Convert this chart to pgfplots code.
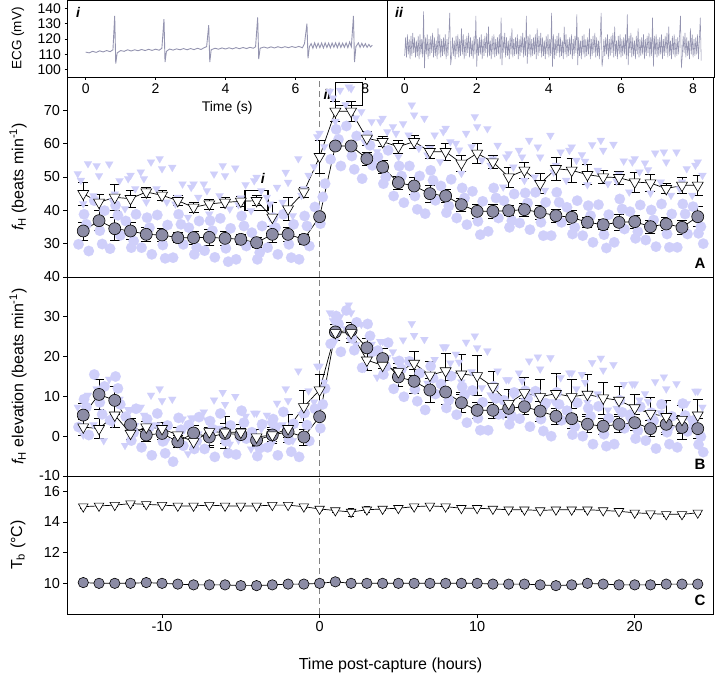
\documentclass[border=0pt]{standalone}
\usepackage{pgfplots}
\pgfplotsset{compat=1.18}
\usepackage{pgfplotstable}
\usepackage{fontspec}
\setmainfont{Liberation Sans}
\definecolor{meanfill}{RGB}{140,140,165}
\definecolor{scat}{RGB}{207,207,250}
\definecolor{ecg}{RGB}{148,148,176}
\definecolor{zeroline}{RGB}{130,130,130}

\pgfplotstableread{
h c ec t et
-15 33.8 2.7 45.0 3.5
-14 36.9 3.0 42.4 2.5
-13 34.5 3.5 43.9 4.0
-12 33.8 2.5 43.5 2.5
-11 32.8 2.0 45.5 1.5
-10 32.6 2.0 44.5 1.5
-9 31.8 1.5 42.9 1.5
-8 31.8 2.0 40.9 1.5
-7 31.9 2.5 41.9 1.5
-6 31.6 2.0 42.4 1.5
-5 31.3 1.5 42.7 1.5
-4 30.3 1.5 42.9 1.5
-3 32.8 2.5 37.9 4.5
-2 32.8 2.0 40.4 3.5
-1 31.3 1.5 45.5 1.5
0 38.1 1.0 56.1 5.0
1 59.3 1.0 69.7 3.0
2 59.3 1.0 69.7 3.0
3 55.5 2.0 61.6 2.0
4 53.0 2.0 60.6 1.5
5 48.3 2.0 59.1 2.0
6 47.3 2.5 60.6 2.0
7 45.0 2.5 57.6 2.0
8 44.3 2.0 57.6 2.5
9 41.7 2.0 54.1 2.5
10 39.7 2.0 57.1 3.0
11 39.7 2.0 54.5 2.0
12 39.9 1.5 50.0 3.0
13 40.2 2.0 52.0 2.5
14 39.4 2.0 48.0 3.0
15 38.4 2.0 52.5 3.5
16 37.9 2.0 52.0 3.5
17 36.4 1.5 50.7 3.0
18 35.7 1.5 50.0 2.0
19 36.4 2.5 49.8 2.0
20 36.6 2.0 48.5 3.0
21 35.1 2.0 48.2 2.5
22 35.9 2.0 46.5 1.5
23 34.9 2.0 47.5 2.5
24 38.1 3.0 47.5 3.0
}\tabA

\pgfplotstableread{
h c ec t et
-15 5.3 3.0 2.3 2.0
-14 10.5 3.8 1.9 2.5
-13 9.0 3.5 5.3 3.0
-12 2.9 1.5 0.7 1.5
-11 0.3 1.5 2.3 1.5
-10 0.7 1.5 1.9 1.5
-9 -1.4 1.5 0.3 2.0
-8 0.8 2.0 -1.4 2.0
-7 -0.2 2.5 1.1 3.5
-6 0.7 2.5 1.0 4.0
-5 0.4 1.5 1.0 2.0
-4 -1.0 1.5 -0.2 2.0
-3 0.3 1.5 0.3 2.0
-2 1.1 1.5 1.9 3.5
-1 -0.2 2.0 7.4 4.0
0 4.9 0.5 11.6 4.0
1 26.2 2.0 26.0 2.0
2 26.6 2.0 26.0 2.5
3 22.2 2.5 19.1 2.5
4 19.5 2.5 17.8 2.5
5 14.9 2.5 16.2 2.0
6 13.8 3.0 18.3 3.0
7 11.6 3.0 15.3 3.5
8 11.1 3.0 16.4 4.5
9 8.4 2.5 15.6 5.0
10 6.5 2.0 15.2 5.0
11 6.5 2.0 12.4 4.0
12 7.0 2.0 8.2 3.5
13 7.4 2.0 10.9 4.0
14 6.3 2.5 9.9 4.5
15 5.0 2.0 10.7 5.0
16 4.4 2.5 9.9 4.5
17 3.0 2.0 10.5 5.0
18 2.5 2.0 9.6 4.0
19 3.0 2.0 9.0 3.5
20 3.4 2.0 7.1 3.5
21 1.9 2.0 5.7 4.0
22 3.0 2.5 4.9 4.0
23 2.2 3.0 4.2 3.5
24 1.9 2.5 5.3 4.0
}\tabB

\pgfplotstableread{
h c t et
-15 10.05 15.0 0.08
-14 10.0 15.05 0.08
-13 10.0 15.1 0.08
-12 10.0 15.2 0.1
-11 10.05 15.15 0.1
-10 10.0 15.1 0.08
-9 9.95 15.05 0.08
-8 9.9 15.05 0.08
-7 9.9 15.1 0.08
-6 9.9 15.05 0.08
-5 9.85 15.05 0.08
-4 9.85 15.05 0.08
-3 9.9 15.1 0.08
-2 9.95 15.1 0.08
-1 9.95 15.0 0.08
0 10.0 14.85 0.1
1 10.1 14.75 0.1
2 10.0 14.65 0.25
3 10.0 14.8 0.2
4 10.0 14.85 0.08
5 10.0 14.9 0.08
6 10.0 15.0 0.08
7 10.0 15.05 0.08
8 10.0 15.0 0.08
9 10.0 14.9 0.08
10 10.0 14.9 0.08
11 9.95 14.85 0.08
12 9.95 14.8 0.08
13 9.95 14.8 0.08
14 9.9 14.75 0.08
15 9.85 14.8 0.08
16 9.9 14.8 0.08
17 10.0 14.8 0.08
18 9.95 14.75 0.08
19 9.9 14.7 0.08
20 9.9 14.6 0.1
21 9.9 14.55 0.08
22 9.95 14.5 0.1
23 9.95 14.5 0.1
24 9.95 14.6 0.08
}\tabC

\tikzset{zero/.style={zeroline, dashed, line width=0.8bp, dash pattern=on 6bp off 4bp}}

\pgfplotsset{
  base/.style={scale only axis, anchor=south west,
    axis line style={black, line width=0.8bp},
    tick style={black, line width=0.7bp}, major tick length=4bp,
    tick align=outside, ytick pos=left, xtick pos=bottom,
    /pgf/number format/assume math mode=true,
    tick label style={font=\fontsize{14.5bp}{16bp}\selectfont},
    label style={font=\fontsize{16bp}{18bp}\selectfont},
    clip=true},
  panel/.style={base, xmin=-16, xmax=25, width=646bp,
    ylabel style={at={(axis description cs:-0.0766,0.5)}, anchor=center}},
  errs/.style={error bars/y dir=both, error bars/y explicit,
    error bars/error bar style={line width=0.7bp, black},
    error bars/error mark options={rotate=90, mark size=5bp, line width=0.7bp, black}},
  meanC/.style={black, line width=0.7bp, mark=*, mark size=6bp,
    mark options={fill=meanfill, draw=black, line width=0.6bp}, errs},
  meanT/.style={black, line width=0.7bp, mark=triangle*, mark size=6.3bp,
    mark options={rotate=180, fill=white, draw=black, line width=0.6bp}, errs},
  scC/.style={only marks, color=scat, mark=*, mark size=5.3bp, mark options={fill=scat, draw=scat, line width=0.1bp}},
  scT/.style={only marks, color=scat, mark=triangle*, mark size=4.6bp, mark options={rotate=180, fill=scat, draw=scat, line width=0.1bp}},
}

\begin{document}
\begin{tikzpicture}
\useasboundingbox (0,0) rectangle (716bp,675bp);

% ---------------- Panel A ----------------
\begin{axis}[panel, at={(67.5bp,398bp)}, height=200bp, ymin=20, ymax=80,
  xtick=\empty, ytick={30,40,50,60,70},
  ylabel={{\itshape f}\textsubscript{H} (beats min\textsuperscript{-1})}]
\draw[zero] (axis cs:0,20) -- (axis cs:0,80);
\addplot[scC] coordinates {
(-15.3,29.8)(-14.95,38.8)(-14.65,27.8)(-14.3,42.9)(-13.95,33.9)(-13.65,39.9)
(-13.3,28.5)(-12.95,41.5)(-12.65,32.5)(-12.3,36.8)(-11.95,28.8)(-11.65,38.8)
(-11.3,28.8)(-10.95,37.8)(-10.65,26.8)(-10.3,38.6)(-9.95,29.6)(-9.65,35.6)
(-9.3,25.8)(-8.95,38.8)(-8.65,29.8)(-8.3,34.8)(-7.95,26.8)(-7.65,36.8)
(-7.3,27.9)(-6.95,36.9)(-6.65,25.9)(-6.3,37.6)(-5.95,28.6)(-5.65,34.6)
(-5.3,25.3)(-4.95,38.3)(-4.65,29.3)(-4.3,33.3)(-3.95,25.3)(-3.65,35.3)
(-3.3,28.8)(-2.95,37.8)(-2.65,26.8)(-2.3,38.8)(-1.95,29.8)(-1.65,35.8)
(-1.3,25.3)(-0.95,38.3)(-0.65,29.3)(-0.3,41)(0.05,36)(0.35,48)
(0.7,55.3)(1.05,64.3)(1.35,53.3)(1.7,65.3)(2.05,56.3)(2.35,62.3)
(2.7,49.5)(3.05,62.5)(3.35,53.5)(3.7,56)(4.05,48)(4.35,58)
(4.7,44.3)(5.05,53.3)(5.35,42.3)(5.7,53.3)(6.05,44.3)(6.35,50.3)
(6.7,39)(7.05,52)(7.35,43)(7.7,47.3)(8.05,39.3)(8.35,49.3)
(8.7,37.7)(9.05,46.7)(9.35,35.7)(9.7,45.7)(10.05,36.7)(10.35,42.7)
(10.7,33.7)(11.05,46.7)(11.35,37.7)(11.7,42.9)(12.05,34.9)(12.35,44.9)
(12.7,36.2)(13.05,45.2)(13.35,34.2)(13.7,45.4)(14.05,36.4)(14.35,42.4)
(14.7,32.4)(15.05,45.4)(15.35,36.4)(15.7,40.9)(16.05,32.9)(16.35,42.9)
(16.7,32.4)(17.05,41.4)(17.35,30.4)(17.7,41.7)(18.05,32.7)(18.35,38.7)
(18.7,30.4)(19.05,43.4)(19.35,34.4)(19.7,39.6)(20.05,31.6)(20.35,41.6)
(20.7,31.1)(21.05,40.1)(21.35,29.1)(21.7,41.9)(22.05,32.9)(22.35,38.9)
(22.7,28.9)(23.05,41.9)(23.35,32.9)(23.7,41.1)(24.05,33.1)(24.35,30)
(-14.8,35.8)(-13.8,29.9)(-12.8,38.5)(-11.8,30.8)(-10.8,34.8)(-9.8,25.6)(-8.8,35.8)(-7.8,28.8)
(-6.8,33.9)(-5.8,24.6)(-4.8,35.3)(-3.8,27.3)(-2.8,34.8)(-1.8,25.8)(-0.8,35.3)(0.2,44)
(1.2,61.3)(2.2,52.3)(3.2,59.5)(4.2,50)(5.2,50.3)(6.2,40.3)(7.2,49)(8.2,41.3)
(9.2,43.7)(10.2,32.7)(11.2,43.7)(12.2,36.9)(13.2,42.2)(14.2,32.4)(15.2,42.4)(16.2,34.9)
(17.2,38.4)(18.2,28.7)(19.2,40.4)(20.2,33.6)(21.2,37.1)(22.2,28.9)(23.2,38.9)(24.2,35.1)
};
\addplot[scT] coordinates {
(-15.35,51)(-15,42)(-14.7,54)(-14.35,44.4)(-14,50.4)(-13.7,40.4)
(-13.35,53.9)(-13,44.9)(-12.7,48.9)(-12.35,40.5)(-12,50.5)(-11.7,46.5)
(-11.35,51.5)(-11,42.5)(-10.7,54.5)(-10.35,46.5)(-10,52.5)(-9.7,42.5)
(-9.35,52.9)(-9,43.9)(-8.7,47.9)(-8.35,37.9)(-8,47.9)(-7.7,43.9)
(-7.35,47.9)(-7,38.9)(-6.7,50.9)(-6.35,44.4)(-6,50.4)(-5.7,40.4)
(-5.35,52.7)(-5,43.7)(-4.7,47.7)(-4.35,39.9)(-4,49.9)(-3.7,45.9)
(-3.35,43.9)(-3,34.9)(-2.7,46.9)(-2.35,42.4)(-2,48.4)(-1.7,38.4)
(-1.35,55.5)(-1,46.5)(-0.7,50.5)(-0.35,53.1)(0,63.1)(0.3,59.1)
(0.65,75.7)(1,66.7)(1.3,76)(1.65,71.7)(2,76.5)(2.3,67.7)
(2.65,69.6)(3,62.6)(3.3,66.6)(3.65,57.6)(4,67.6)(4.3,63.6)
(4.65,65.1)(5,56.1)(5.3,66)(5.65,62.6)(6,68.6)(6.3,58.6)
(6.65,67.6)(7,58.6)(7.3,62.6)(7.65,54.6)(8,64.6)(8.3,60.6)
(8.65,60.1)(9,51.1)(9.3,63.1)(9.65,59.1)(10,65.1)(10.3,55.1)
(10.65,64.5)(11,55.5)(11.3,59.5)(11.65,47)(12,57)(12.3,53)
(12.65,58)(13,49)(13.3,61)(13.65,50)(14,56)(14.3,46)
(14.65,62.5)(15,53.5)(15.3,57.5)(15.65,49)(16,59)(16.3,55)
(16.65,56.7)(17,47.7)(17.3,59.7)(17.65,52)(18,58)(18.3,48)
(18.65,59.8)(19,50.8)(19.3,54.8)(19.65,45.5)(20,55.5)(20.3,51.5)
(20.65,54.2)(21,45.2)(21.3,57.2)(21.65,48.5)(22,54.5)(22.3,44.5)
(22.65,57.5)(23,48.5)(23.3,52.5)(23.65,44.5)(24,54.5)(24.3,50.5)
(-15.15,49)(-14.15,53.4)(-13.15,42.9)(-12.15,49.5)(-11.15,49.5)(-10.15,55.5)(-9.15,41.9)(-8.15,46.9)
(-7.15,45.9)(-6.15,53.4)(-5.15,41.7)(-4.15,48.9)(-3.15,41.9)(-2.15,51.4)(-1.15,44.5)(-0.15,62.1)
(0.85,73.7)(1.85,77)(2.85,60.6)(3.85,66.6)(4.85,63.1)(5.85,71.6)(6.85,56.6)(7.85,63.6)
(8.85,58.1)(9.85,68.1)(10.85,53.5)(11.85,56)(12.85,56)(13.85,59)(14.85,51.5)(15.85,58)
(16.85,54.7)(17.85,61)(18.85,48.8)(19.85,54.5)(20.85,52.2)(21.85,57.5)(22.85,46.5)(23.85,53.5)
};
\addplot[meanC] table[x=h, y=c, y error=ec] {\tabA};
\addplot[meanT] table[x=h, y=t, y error=et] {\tabA};
\node[draw, line width=1.3bp, minimum width=23bp, minimum height=20bp, inner sep=0pt] at (axis cs:-4,42.9) {};
\node[draw, line width=1.3bp, minimum width=27bp, minimum height=23bp, inner sep=0pt] at (axis cs:1.87,74.8) {};
\node[font=\bfseries\itshape\fontsize{14bp}{16bp}\selectfont] at (axis cs:-3.6,49.7) {i};
\node[font=\bfseries\itshape\fontsize{14bp}{16bp}\selectfont] at (axis cs:0.5,74.7) {ii};
\node[font=\bfseries\fontsize{15bp}{17bp}\selectfont] at (axis description cs:0.979,0.07) {A};
\end{axis}

% ---------------- Panel B ----------------
\begin{axis}[panel, at={(67.5bp,199bp)}, height=199bp, ymin=-10, ymax=40,
  xtick=\empty, ytick={-10,0,10,20,30,40},
  ylabel={{\itshape f}\textsubscript{H} elevation (beats min\textsuperscript{-1})}]
\draw[zero] (axis cs:0,-10) -- (axis cs:0,40);
\addplot[scC] coordinates {
(-15.3,2.3)(-14.95,9.3)(-14.65,0.3)(-14.3,15.5)(-13.95,8.5)(-13.65,12.5)
(-13.3,4)(-12.95,15)(-12.65,8)(-12.3,4.9)(-11.95,-1.1)(-11.65,6.9)
(-11.3,-2.8)(-10.95,4.3)(-10.65,-4.8)(-10.3,5.7)(-9.95,-1.3)(-9.65,2.7)
(-9.3,-6.4)(-8.95,4.6)(-8.65,-2.4)(-8.3,2.8)(-7.95,-3.2)(-7.65,4.8)
(-7.3,-3.2)(-6.95,3.8)(-6.65,-5.2)(-6.3,5.7)(-5.95,-1.3)(-5.65,2.7)
(-5.3,-4.6)(-4.95,6.4)(-4.65,-0.6)(-4.3,1)(-3.95,-5)(-3.65,3)
(-3.3,-2.8)(-2.95,4.3)(-2.65,-4.8)(-2.3,6.1)(-1.95,-0.9)(-1.65,3.1)
(-1.3,-5.2)(-0.95,5.8)(-0.65,-1.2)(-0.3,6.9)(0.05,2)(0.35,12)
(0.7,23.2)(1.05,30.2)(1.35,21.2)(1.7,31.6)(2.05,24.6)(2.35,28.6)
(2.7,17.2)(3.05,28.2)(3.35,21.2)(3.7,21.5)(4.05,15.5)(4.35,23.5)
(4.7,11.9)(5.05,18.9)(5.35,9.9)(5.7,18.8)(6.05,11.8)(6.35,15.8)
(6.7,6.6)(7.05,17.6)(7.35,10.6)(7.7,13.1)(8.05,7.1)(8.35,15.1)
(8.7,5.4)(9.05,12.4)(9.35,3.4)(9.7,11.5)(10.05,4.5)(10.35,8.5)
(10.7,1.5)(11.05,12.5)(11.35,5.5)(11.7,9)(12.05,3)(12.35,11)
(12.7,4.4)(13.05,11.4)(13.35,2.4)(13.7,11.3)(14.05,4.3)(14.35,8.3)
(14.7,0)(15.05,11)(15.35,4)(15.7,6.4)(16.05,0.4)(16.35,8.4)
(16.7,0)(17.05,7)(17.35,-2)(17.7,7.5)(18.05,0.5)(18.35,4.5)
(18.7,-2)(19.05,9)(19.35,2)(19.7,5.4)(20.05,-0.6)(20.35,7.4)
(20.7,-1.1)(21.05,5.9)(21.35,-3.1)(21.7,8)(22.05,1)(22.35,5)
(22.7,-2.8)(23.05,8.2)(23.35,1.2)(23.7,3.9)(24.05,-2.1)(24.35,-4)
(-14.8,7.3)(-13.8,5.5)(-12.8,12)(-11.8,0.9)(-10.8,2.3)(-9.8,-4.3)(-8.8,1.6)(-7.8,-1.2)
(-6.8,1.8)(-5.8,-4.3)(-4.8,3.4)(-3.8,-3)(-2.8,2.3)(-1.8,-3.9)(-0.8,2.8)(0.2,8)
(1.2,28.2)(2.2,21.6)(3.2,25.2)(4.2,17.5)(5.2,16.9)(6.2,8.8)(7.2,14.6)(8.2,9.1)
(9.2,10.4)(10.2,1.5)(11.2,9.5)(12.2,5)(13.2,9.4)(14.2,1.3)(15.2,8)(16.2,2.4)
(17.2,5)(18.2,-2.5)(19.2,6)(20.2,1.4)(21.2,3.9)(22.2,-2)(23.2,5.2)(24.2,-0.1)
};
\addplot[scT] coordinates {
(-15.35,7.3)(-15,0.3)(-14.7,10.3)(-14.35,2.9)(-14,8.9)(-13.7,-1.1)
(-13.35,14.3)(-13,5.3)(-12.7,9.3)(-12.35,-2.3)(-12,6.7)(-11.7,2.7)
(-11.35,7.3)(-11,0.3)(-10.7,10.3)(-10.35,2.9)(-10,8.9)(-9.7,-1.1)
(-9.35,9.3)(-9,0.3)(-8.7,4.3)(-8.35,-4.4)(-8,4.6)(-7.7,0.6)
(-7.35,6.1)(-7,-0.9)(-6.7,9.1)(-6.35,2)(-6,8)(-5.7,-2)
(-5.35,10)(-5,1)(-4.7,5)(-4.35,-3.2)(-4,5.8)(-3.7,1.8)
(-3.35,5.3)(-3,-1.7)(-2.7,8.3)(-2.35,2.9)(-2,8.9)(-1.7,-1.1)
(-1.35,16.4)(-1,7.4)(-0.7,11.4)(-0.35,8.6)(0,17.6)(0.3,13.6)
(0.65,31)(1,24)(1.3,30)(1.65,27)(2,31)(2.3,23)
(2.65,28.1)(3,19.1)(3.3,23.1)(3.65,14.8)(4,23.8)(4.3,19.8)
(4.65,21.2)(5,14.2)(5.3,24.2)(5.65,19.3)(6,25.3)(6.3,15.3)
(6.65,24.3)(7,15.3)(7.3,19.3)(7.65,13.4)(8,22.4)(8.3,18.4)
(8.65,20.6)(9,13.6)(9.3,23.6)(9.65,16.2)(10,22.2)(10.3,12.2)
(10.65,21.4)(11,12.4)(11.3,16.4)(11.65,5.2)(12,14.2)(12.3,10.2)
(12.65,15.9)(13,8.9)(13.3,18.9)(13.65,10.9)(14,16.9)(14.3,6.9)
(14.65,19.7)(15,10.7)(15.3,14.7)(15.65,6.9)(16,15.9)(16.3,11.9)
(16.65,15.5)(17,8.5)(17.3,18.5)(17.65,10.6)(18,16.6)(18.3,6.6)
(18.65,18)(19,9)(19.3,13)(19.65,4.1)(20,13.1)(20.3,9.1)
(20.65,10.7)(21,3.7)(21.3,13.7)(21.65,5.9)(22,11.9)(22.3,1.9)
(22.65,13.2)(23,4.2)(23.3,8.2)(23.65,2.3)(24,11.3)(24.3,7.3)
(-15.15,5.3)(-14.15,11.9)(-13.15,3.3)(-12.15,6.7)(-11.15,5.3)(-10.15,11.9)(-9.15,-1.7)(-8.15,4.6)
(-7.15,4.1)(-6.15,11)(-5.15,-1)(-4.15,5.8)(-3.15,3.3)(-2.15,11.9)(-1.15,5.4)(-0.15,17.6)
(0.85,29)(1.85,33)(2.85,17.1)(3.85,23.8)(4.85,19.2)(5.85,28.3)(6.85,13.3)(7.85,22.4)
(8.85,18.6)(9.85,25.2)(10.85,10.4)(11.85,14.2)(12.85,13.9)(13.85,19.9)(14.85,8.7)(15.85,15.9)
(16.85,13.5)(17.85,19.6)(18.85,7)(19.85,13.1)(20.85,8.7)(21.85,14.9)(22.85,2.2)(23.85,11.3)
};
\addplot[meanC] table[x=h, y=c, y error=ec] {\tabB};
\addplot[meanT] table[x=h, y=t, y error=et] {\tabB};
\node[font=\bfseries\fontsize{15bp}{17bp}\selectfont] at (axis description cs:0.979,0.06) {B};
\end{axis}

% ---------------- Panel C ----------------
\begin{axis}[panel, at={(67.5bp,61bp)}, height=138bp, ymin=8, ymax=17,
  xtick={-10,0,10,20}, ytick={10,12,14,16},
  ylabel={T\textsubscript{b} (°C)},
  xlabel={Time post-capture (hours)},
  xlabel style={at={(axis description cs:0.5,-0.37)}, anchor=center}]
\draw[zero] (axis cs:0,8) -- (axis cs:0,17);
\addplot[black, line width=0.7bp, mark=*, mark size=5.2bp,
  mark options={fill=meanfill, draw=black, line width=0.6bp}] table[x=h, y=c] {\tabC};
\addplot[black, line width=0.7bp, mark=triangle*, mark size=5.5bp,
  mark options={rotate=180, fill=white, draw=black, line width=0.6bp},
  error bars/y dir=both, error bars/y explicit,
  error bars/error bar style={line width=0.7bp, black},
  error bars/error mark options={rotate=90, mark size=3bp, line width=0.7bp, black}] table[x=h, y=t, y error=et] {\tabC};
\node[font=\bfseries\fontsize{15bp}{17bp}\selectfont] at (axis description cs:0.979,0.1) {C};
\end{axis}

% ---------------- Inset i ----------------
\begin{axis}[base, at={(67.5bp,598bp)}, width=319.5bp, height=77bp,
  xmin=-0.52, xmax=8.62, ymin=95.3, ymax=145.4,
  xtick={0,2,4,6,8}, ytick={100,110,120,130,140}, major tick length=3bp,
  tick label style={font=\fontsize{14bp}{16bp}\selectfont},
  xticklabel style={yshift=0bp},
  ylabel={ECG (mV)}, xlabel={Time (s)},
  ylabel style={at={(axis description cs:-0.155,0.5)}, anchor=center, font=\fontsize{13.5bp}{15bp}\selectfont},
  xlabel style={at={(axis description cs:0.5,-0.4)}, anchor=center, font=\fontsize{14bp}{16bp}\selectfont}]
\addplot[ecg, line width=0.9bp] coordinates {
(0.0,111.5)(0.1,111)(0.2,112)(0.3,111.3)(0.4,112.3)(0.5,111.6)(0.6,112.5)(0.7,111.8)(0.78,113)
(0.83,135)(0.86,104)(0.9,111)(1.0,112.5)(1.1,112)(1.2,113)(1.3,112.2)(1.4,113)(1.5,112.4)
(1.6,113.2)(1.7,112.5)(1.8,113.3)(1.9,112.6)(2.0,113.4)(2.1,112.7)(2.18,114)
(2.24,133)(2.27,105)(2.31,112)(2.4,113.5)(2.5,112.8)(2.6,113.6)(2.7,113)(2.8,113.8)(2.9,113)
(3.0,113.8)(3.1,113.1)(3.2,114)(3.3,113.2)(3.4,114.5)(3.46,115)
(3.52,129)(3.55,105)(3.59,113)(3.7,114)(3.8,113.4)(3.9,114.2)(4.0,113.5)(4.1,114.3)(4.2,113.6)
(4.3,114.4)(4.4,113.7)(4.5,114.5)(4.6,113.8)(4.7,114.6)(4.8,114)(4.86,115)
(4.92,134)(4.95,107)(4.99,114)(5.1,114.8)(5.2,114.1)(5.3,114.9)(5.4,114.2)(5.5,115)(5.6,114.3)
(5.7,115)(5.8,114.4)(5.9,115.1)(6.0,114.5)(6.1,115.2)(6.2,114.3)(6.26,117)
(6.33,130)(6.36,107.5)(6.4,115)(6.45,117)(6.5,114)(6.55,117.5)(6.6,114.3)(6.65,117.2)(6.7,114.4)
(6.75,117.4)(6.8,114.2)(6.85,117.5)(6.9,114.5)(6.95,117.3)(7.0,114.3)(7.05,117.4)(7.1,114.6)
(7.15,117.5)(7.2,114.4)(7.25,117.6)(7.3,114.5)(7.35,117.3)(7.4,114.6)(7.45,117.5)(7.5,114.4)
(7.55,118)(7.6,115)(7.66,135)(7.69,105)(7.73,115)(7.8,117.5)(7.85,114.6)(7.9,117.2)(7.95,114.8)
(8.0,117)(8.05,114.6)(8.1,116.5)(8.15,114.8)(8.2,116)
};
\node[font=\bfseries\itshape\fontsize{14bp}{16bp}\selectfont] at (axis description cs:0.033,0.84) {i};
\end{axis}

% ---------------- Inset ii ----------------
\begin{axis}[base, at={(387bp,598bp)}, width=327bp, height=77bp,
  xmin=-0.49, xmax=8.58, ymin=95.3, ymax=145.4,
  xtick={0,2,4,6,8}, ytick=\empty, major tick length=3bp,
  tick label style={font=\fontsize{14bp}{16bp}\selectfont},
  xticklabel style={yshift=0bp}]
\addplot[ecg, line width=0.55bp] coordinates {
(0.000,109)(0.025,121)(0.050,108)(0.075,123)(0.100,110)(0.125,120)(0.150,107)(0.175,122)(0.200,109)(0.225,124)
(0.250,111)(0.275,121)(0.300,108)(0.325,119)(0.350,109)(0.375,122)(0.400,107)(0.425,123)(0.450,110)(0.475,120)
(0.500,108)(0.525,138)(0.550,101)(0.575,121)(0.600,110)(0.625,123)(0.650,107)(0.675,120)(0.700,109)(0.725,122)
(0.750,111)(0.775,124)(0.800,108)(0.825,121)(0.850,109)(0.875,119)(0.900,107)(0.925,127)(0.950,110)(0.975,123)
(1.000,108)(1.025,120)(1.050,109)(1.075,121)(1.100,110)(1.125,123)(1.150,107)(1.175,120)(1.200,109)(1.225,122)
(1.250,137)(1.275,103)(1.300,108)(1.325,121)(1.350,109)(1.375,119)(1.400,107)(1.425,122)(1.450,110)(1.475,123)
(1.500,108)(1.525,120)(1.550,109)(1.575,127)(1.600,110)(1.625,123)(1.650,107)(1.675,120)(1.700,109)(1.725,122)
(1.750,111)(1.775,124)(1.800,108)(1.825,121)(1.850,109)(1.875,119)(1.900,107)(1.925,122)(1.950,110)(1.975,135)
(2.000,102)(2.025,120)(2.050,109)(2.075,121)(2.100,110)(2.125,123)(2.150,107)(2.175,120)(2.200,109)(2.225,122)
(2.250,111)(2.275,124)(2.300,108)(2.325,128)(2.350,109)(2.375,119)(2.400,107)(2.425,122)(2.450,110)(2.475,123)
(2.500,108)(2.525,120)(2.550,109)(2.575,121)(2.600,110)(2.625,123)(2.650,107)(2.675,134)(2.700,103)(2.725,122)
(2.750,111)(2.775,124)(2.800,108)(2.825,121)(2.850,109)(2.875,119)(2.900,107)(2.925,122)(2.950,110)(2.975,127)
(3.000,108)(3.025,120)(3.050,109)(3.075,121)(3.100,110)(3.125,123)(3.150,107)(3.175,120)(3.200,109)(3.225,122)
(3.250,111)(3.275,124)(3.300,108)(3.325,121)(3.350,109)(3.375,135)(3.400,104)(3.425,122)(3.450,110)(3.475,123)
(3.500,108)(3.525,120)(3.550,109)(3.575,121)(3.600,110)(3.625,123)(3.650,107)(3.675,127)(3.700,109)(3.725,122)
(3.750,111)(3.775,124)(3.800,108)(3.825,121)(3.850,109)(3.875,119)(3.900,107)(3.925,122)(3.950,110)(3.975,123)
(4.000,108)(4.025,120)(4.050,109)(4.075,137)(4.100,102)(4.125,123)(4.150,107)(4.175,120)(4.200,109)(4.225,122)
(4.250,111)(4.275,124)(4.300,108)(4.325,121)(4.350,109)(4.375,119)(4.400,107)(4.425,128)(4.450,110)(4.475,123)
(4.500,108)(4.525,120)(4.550,109)(4.575,121)(4.600,110)(4.625,123)(4.650,107)(4.675,120)(4.700,109)(4.725,122)
(4.750,111)(4.775,136)(4.800,103)(4.825,121)(4.850,109)(4.875,119)(4.900,107)(4.925,122)(4.950,110)(4.975,123)
(5.000,108)(5.025,120)(5.050,109)(5.075,121)(5.100,110)(5.125,127)(5.150,107)(5.175,120)(5.200,109)(5.225,122)
(5.250,111)(5.275,124)(5.300,108)(5.325,121)(5.350,109)(5.375,119)(5.400,107)(5.425,122)(5.450,137)(5.475,102)
(5.500,108)(5.525,120)(5.550,109)(5.575,121)(5.600,110)(5.625,123)(5.650,107)(5.675,120)(5.700,109)(5.725,122)
(5.750,111)(5.775,124)(5.800,108)(5.825,128)(5.850,109)(5.875,119)(5.900,107)(5.925,122)(5.950,110)(5.975,123)
(6.000,108)(6.025,120)(6.050,109)(6.075,121)(6.100,110)(6.125,123)(6.150,107)(6.175,136)(6.200,103)(6.225,122)
(6.250,111)(6.275,124)(6.300,108)(6.325,121)(6.350,109)(6.375,119)(6.400,107)(6.425,122)(6.450,110)(6.475,127)
(6.500,108)(6.525,120)(6.550,109)(6.575,121)(6.600,110)(6.625,123)(6.650,107)(6.675,120)(6.700,109)(6.725,122)
(6.750,111)(6.775,124)(6.800,108)(6.825,121)(6.850,109)(6.875,134)(6.900,102)(6.925,122)(6.950,110)(6.975,123)
(7.000,108)(7.025,120)(7.050,109)(7.075,121)(7.100,110)(7.125,123)(7.150,107)(7.175,120)(7.200,109)(7.225,122)
(7.250,111)(7.275,124)(7.300,108)(7.325,128)(7.350,109)(7.375,119)(7.400,107)(7.425,122)(7.450,110)(7.475,123)
(7.500,108)(7.525,120)(7.550,109)(7.575,121)(7.600,110)(7.625,123)(7.650,135)(7.675,101)(7.700,109)(7.725,122)
(7.750,111)(7.775,124)(7.800,108)(7.825,121)(7.850,109)(7.875,119)(7.900,107)(7.925,127)(7.950,110)(7.975,123)
(8.000,108)(8.025,120)(8.050,109)(8.075,121)(8.100,110)(8.125,123)(8.150,107)(8.175,120)(8.200,134)(8.225,106)
};
\node[font=\bfseries\itshape\fontsize{14bp}{16bp}\selectfont] at (axis description cs:0.037,0.84) {ii};
\end{axis}
\end{tikzpicture}
\end{document}
